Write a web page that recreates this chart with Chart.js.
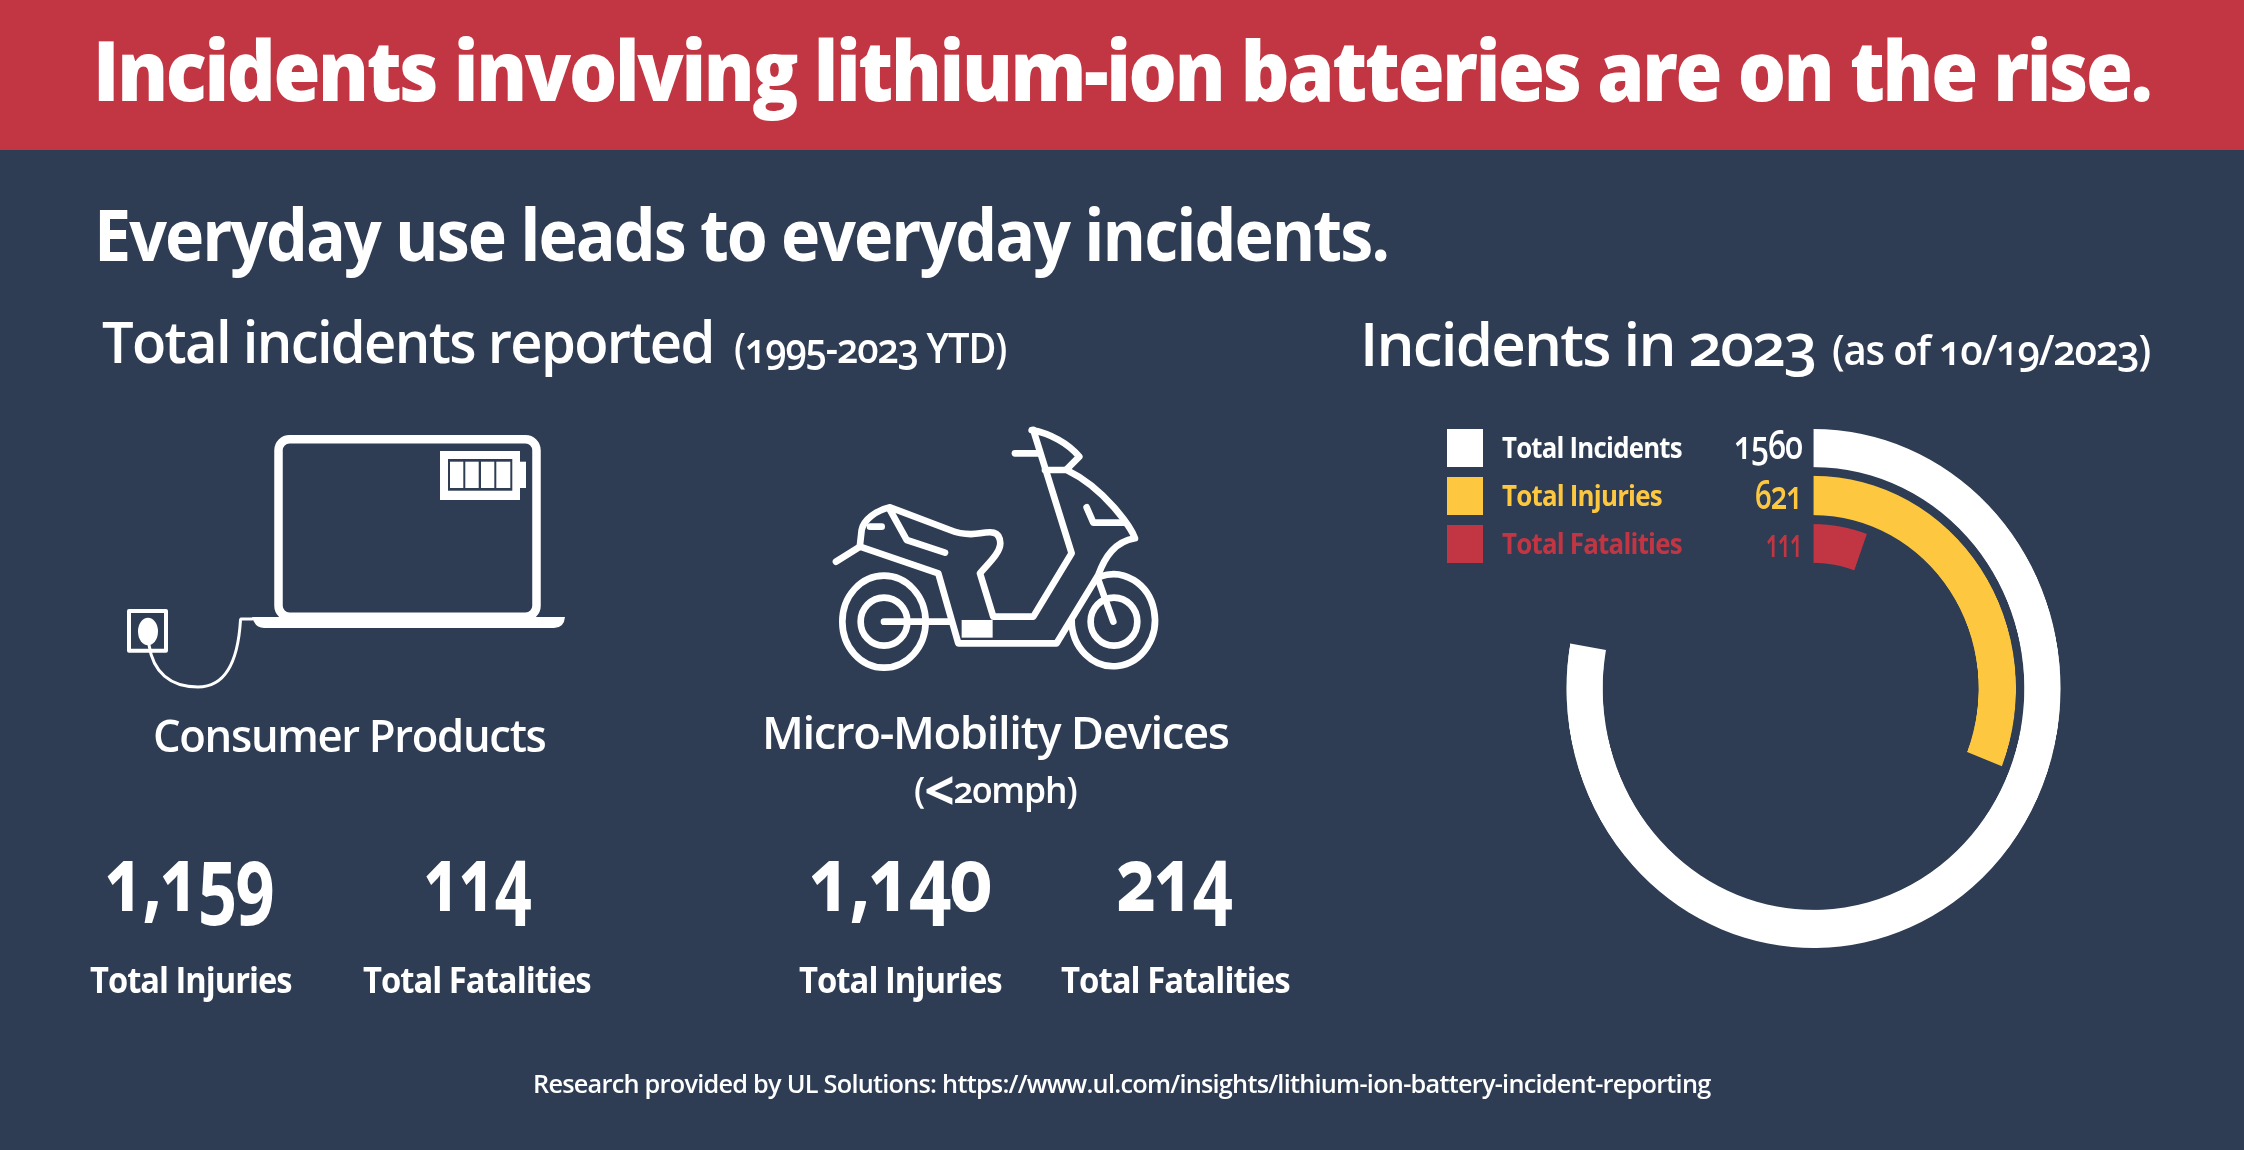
<!DOCTYPE html>
<html>
<head>
<meta charset="utf-8">
<title>Lithium-ion battery incidents</title>
<script src="https://cdn.jsdelivr.net/npm/chart.js@4/dist/chart.umd.min.js"></script>
<style>
	html, body { margin: 0; padding: 0; background: #2e3d54; }
	#page { position: relative; width: 2244px; height: 1150px; overflow: hidden; background: #2e3d54; }
	#band { position: absolute; left: 0; top: 0; width: 2244px; height: 150px; background: #c23643; }
	#ring { position: absolute; left: 1553.5px; top: 429px; width: 519px; height: 519px; transform: scaleX(0.952); transform-origin: center; }
	#art { position: absolute; left: 0; top: 0; }
	.label { position: absolute; white-space: nowrap; color: #fff; font-family: "Open Sans", sans-serif; font-feature-settings: "onum" 1; letter-spacing: -0.03em; transform-origin: 0 0; }
	.label span { font-size: 1.5em; font-weight: 700; line-height: 0; position: relative; top: 0.14em; }
	.swatch { position: absolute; left: 1447px; width: 36px; height: 38px; }
	.icon { fill: none; stroke: #fff; stroke-linejoin: round; stroke-linecap: round; }
	.solid { fill: #fff; stroke: none; }
</style>
</head>
<body>
<div id="page">
	<div id="band"></div>
	<div id="ring"><canvas id="chart" width="519" height="519"></canvas></div>
	<svg id="art" width="2244" height="1150" xmlns="http://www.w3.org/2000/svg">
		<!-- laptop -->
		<rect class="icon" x="278.5" y="439.3" width="258" height="177.5" rx="11" stroke-width="8.5"/>
		<path class="solid" d="M252,617 H565 Q564,628 554,628 H264 Q255,628 252,617 Z"/>
		<rect class="solid" x="440" y="451" width="80" height="49"/>
		<rect class="solid" x="520" y="461.7" width="6" height="26.3"/>
		<rect x="448" y="459" width="64.3" height="31.7" fill="#2e3d54"/>
		<rect class="solid" x="450" y="461.7" width="13.3" height="26.3"/>
		<rect class="solid" x="465.3" y="461.7" width="13.4" height="26.3"/>
		<rect class="solid" x="481" y="461.7" width="13.3" height="26.3"/>
		<rect class="solid" x="496.3" y="461.7" width="14" height="26.3"/>
		<rect class="icon" x="129" y="611" width="37" height="39.7" stroke-width="4" stroke-linecap="butt"/>
		<ellipse class="solid" cx="148" cy="631.5" rx="10" ry="13.7"/>
		<path class="icon" stroke-width="3" d="M149,645 C153,672 170,687 198,687 C225,687 238,662 240.5,620 L241,619 H252"/>
		<!-- scooter -->
		<g transform="translate(800,400) scale(0.3333)">
			<g class="icon" stroke-width="20">
				<ellipse cx="252" cy="665" rx="125" ry="138"/>
				<ellipse cx="252" cy="665" rx="70" ry="72"/>
				<ellipse cx="942" cy="665" rx="70" ry="72"/>
				<path d="M900,530 A125,138 0 1 1 815,660"/>
				<path d="M108,485 L180,440 L415,520 L475,730 H770 L895,525 C915,470 945,425 1005,415 C995,385 915,265 800,210 H735"/>
				<path d="M700,90 L815,460 L700,650 H580 L540,520 C565,490 600,460 601,430 C600,390 570,395 540,400 C510,405 480,402 450,390 L270,322 C230,330 190,360 185,390 L180,435"/>
				<path d="M270,330 L320,420 L435,458"/>
				<path d="M210,380 H245"/>
				<path d="M695,90 C750,100 805,130 838,170 L800,208"/>
				<path d="M645,160 H715"/>
				<path d="M860,322 L880,368 H975"/>
				<path d="M895,540 L940,665"/>
				<path d="M252,665 H450"/>
			</g>
			<rect class="solid" x="485" y="660" width="93" height="53"/>
		</g>
	</svg>
</div>

<script>
	var categories = ["Total Incidents", "Total Injuries", "Total Fatalities"];
	var values2023 = [1560, 621, 111];
	var colours2023 = ["#ffffff", "#fdc840", "#c23643"];
	var products = ["Consumer Products", "Micro-Mobility Devices"];
	var totalInjuries = [1159, 1140];
	var totalFatalities = [114, 214];
	var title = "Incidents involving lithium-ion batteries are on the rise.";
	var subtitle = "Everyday use leads to everyday incidents.";
	var source = "Research provided by UL Solutions: https://www.ul.com/insights/lithium-ion-battery-incident-reporting";

	var page = document.getElementById("page");

	// Open Sans has its baseline 1.069em below the top of the line box.
	// Each label is squeezed to the width it has in the picture.
	var put = function (text, left, right, baseline, size, weight, colour) {
		var node = document.createElement("div");
		var pad = size * 0.05;
		node.className = "label";
		node.innerHTML = text;
		node.style.fontSize = size + "px";
		node.style.fontWeight = weight;
		node.style.left = (left - pad) + "px";
		node.style.top = (baseline - 1.069 * size) + "px";
		if (colour) {
			node.style.color = colour;
		}
		page.appendChild(node);
		var squeeze = (right - left + 2 * pad) / node.getBoundingClientRect().width;
		node.style.transform = "scaleX(" + squeeze + ")";
	};

	var comma = function (n) {
		return n.toLocaleString("en-US");
	};

	put(title, 97, 2146, 100.7, 84, 800);
	put(subtitle, 98, 1385, 261, 71, 700);
	put("Total incidents reported", 105, 711, 362.7, 57, 600);
	put("(1995-2023 YTD)", 736, 1004, 363, 41, 600);
	put("Incidents in 2023", 1363, 1813, 365.7, 59, 600);
	put("(as of 10/19/2023)", 1834, 2148, 365, 41, 600);
	put(source, 534, 1709, 1092.7, 25, 600);

	put(products[0], 155, 543, 751.7, 45, 600);
	put(products[1], 764, 1226, 749, 45, 600);
	put("(<span>&lt;</span>20mph)", 916, 1075, 803, 36, 600);

	put(comma(totalInjuries[0]), 109, 268, 911.7, 90, 700);
	put(comma(totalFatalities[0]), 428, 525, 911.7, 90, 700);
	put(comma(totalInjuries[1]), 813, 985, 911.7, 90, 700);
	put(comma(totalFatalities[1]), 1120, 1226, 911.7, 90, 700);

	put("Total Injuries", 92, 290, 993.7, 36, 700);
	put("Total Fatalities", 365, 589, 993.7, 36, 700);
	put("Total Injuries", 801, 1000, 993.7, 36, 700);
	put("Total Fatalities", 1063, 1288, 993.7, 36, 700);

	// legend rows: swatch, name, value
	var rowTop = [429, 477, 525];
	var rowName = [[1680, 458.3], [1660, 505.7], [1680, 553.8]];
	var rowValue = [[1736, 459], [1757, 509], [1768, 556.5]];

	categories.forEach(function (name, i) {
		var box = document.createElement("div");
		box.className = "swatch";
		box.style.top = rowTop[i] + "px";
		box.style.background = colours2023[i];
		page.appendChild(box);
		put(name, 1503, rowName[i][0], rowName[i][1], 28, 700, colours2023[i]);
		put(String(values2023[i]), rowValue[i][0], 1800, rowValue[i][1], 40, 600, colours2023[i]);
	});

	// the ring scale runs 0-1560 over 280 degrees, spacers make the gaps
	var ring = function (value, colour, weight) {
		return {
			data: [value, values2023[0] - value],
			backgroundColor: [colour, "transparent"],
			borderWidth: 0,
			weight: weight,
		};
	};
	var gap = function (weight) {
		return { data: [0, 1], backgroundColor: "transparent", borderWidth: 0, weight: weight };
	};

	new Chart(document.getElementById("chart"), {
		type: "doughnut",
		data: {
			labels: [categories[0], "rest"],
			datasets: [
				ring(values2023[0], colours2023[0], 38.1),
				gap(8.8),
				ring(values2023[1], colours2023[1], 39.2),
				gap(9),
				ring(values2023[2], colours2023[2], 38.8),
			],
		},
		options: {
			responsive: false,
			devicePixelRatio: 2,
			animation: false,
			events: [],
			rotation: 0,
			circumference: 280,
			cutout: "48.4%",
			layout: { padding: 0 },
			plugins: { legend: { display: false }, tooltip: { enabled: false } },
		},
	});
</script>
</body>
</html>
